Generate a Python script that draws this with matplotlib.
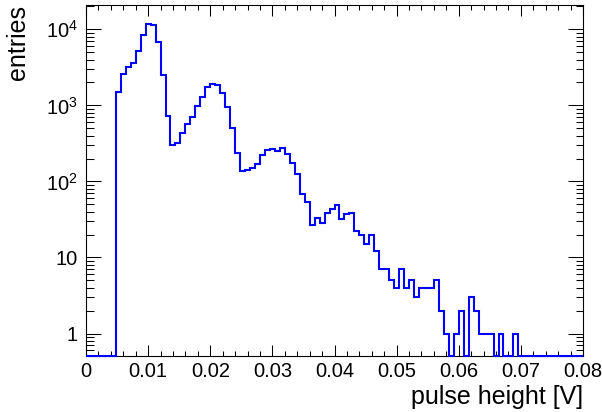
import numpy as np
import matplotlib
matplotlib.use("Agg")
import matplotlib.pyplot as plt
from matplotlib.ticker import FixedLocator, FixedFormatter, LogLocator, NullFormatter, MultipleLocator

# ---- data ----
x_min, x_max, n_bins = 0.0, 0.08, 100
counts = [
    0, 0, 0, 0, 0, 0, 1510, 2580, 3170, 3640,
    5190, 8420, 11700, 11500, 6750, 2510, 731, 301, 323, 429,
    569, 697, 980, 1300, 1730, 1910, 1870, 1470, 943, 499,
    239, 138, 141, 151, 169, 222, 259, 264, 253, 272,
    229, 176, 125, 68, 54, 27, 33, 28, 39, 43,
    49, 32, 37, 38, 22, 20, 15, 20, 12, 7,
    7, 5, 4, 7, 4, 5, 3, 4, 4, 4,
    5, 2, 1, 0, 1, 2, 0, 3, 2, 1,
    1, 1, 0, 1, 0, 0, 1, 0, 0, 0,
    0, 0, 0, 0, 0, 0, 0, 0, 0, 0,
]
x_ticks = [0, 0.01, 0.02, 0.03, 0.04, 0.05, 0.06, 0.07, 0.08]
x_tick_labels = ["0", "0.01", "0.02", "0.03", "0.04", "0.05", "0.06", "0.07", "0.08"]
y_ticks = [1, 10, 100, 1000, 10000]
y_tick_labels = ["1", "10", "$10^{2}$", "$10^{3}$", "$10^{4}$"]
x_label = "pulse height [V]"
y_label = "entries"

# ---- style ----
plt.rcParams['font.family'] = ['Liberation Sans', 'DejaVu Sans']
plt.rcParams['mathtext.default'] = 'regular'

W, H = 602, 412
fig = plt.figure(figsize=(W / 100, H / 100), dpi=100)
L, R, T, B = 86, 583, 5, 356
ax = fig.add_axes([L / W, 1 - B / H, (R - L) / W, (B - T) / H])

y_lo, y_hi = 0.506, 2.09e4
edges = np.linspace(x_min, x_max, n_bins + 1)
vals = np.array(counts, dtype=float)
draw_vals = np.where(vals > 0, vals, y_lo)
ax.stairs(draw_vals, edges, baseline=y_lo, color='#0000ff', lw=1.5,
          zorder=3, clip_on=False)

ax.set_yscale('log')
ax.set_xlim(x_min, x_max)
ax.set_ylim(y_lo, y_hi)

ax.xaxis.set_major_locator(FixedLocator(x_ticks))
ax.xaxis.set_major_formatter(FixedFormatter(x_tick_labels))
ax.xaxis.set_minor_locator(MultipleLocator(0.002))
ax.yaxis.set_major_locator(FixedLocator(y_ticks))
ax.yaxis.set_major_formatter(FixedFormatter(y_tick_labels))
ax.yaxis.set_minor_locator(LogLocator(base=10, subs=np.arange(2, 10)))
ax.yaxis.set_minor_formatter(NullFormatter())

ax.tick_params(axis='both', which='both', direction='in', top=True, right=True,
               width=0.75, color='black')
ax.tick_params(axis='x', which='major', length=7.6, pad=4, labelsize=14.5)
ax.tick_params(axis='x', which='minor', length=3.8)
ax.tick_params(axis='y', which='major', length=10.8, pad=6, labelsize=14.5)
ax.tick_params(axis='y', which='minor', length=5.4)

for s in ax.spines.values():
    s.set_linewidth(0.8)

ax.set_xlabel(x_label, fontsize=18, ha='right')
ax.xaxis.set_label_coords(1.0, -0.083)
ax.set_ylabel(y_label, fontsize=18, ha='right')
ax.yaxis.set_label_coords(-0.113, 1.0)

fig.savefig("out.png", dpi=100)
